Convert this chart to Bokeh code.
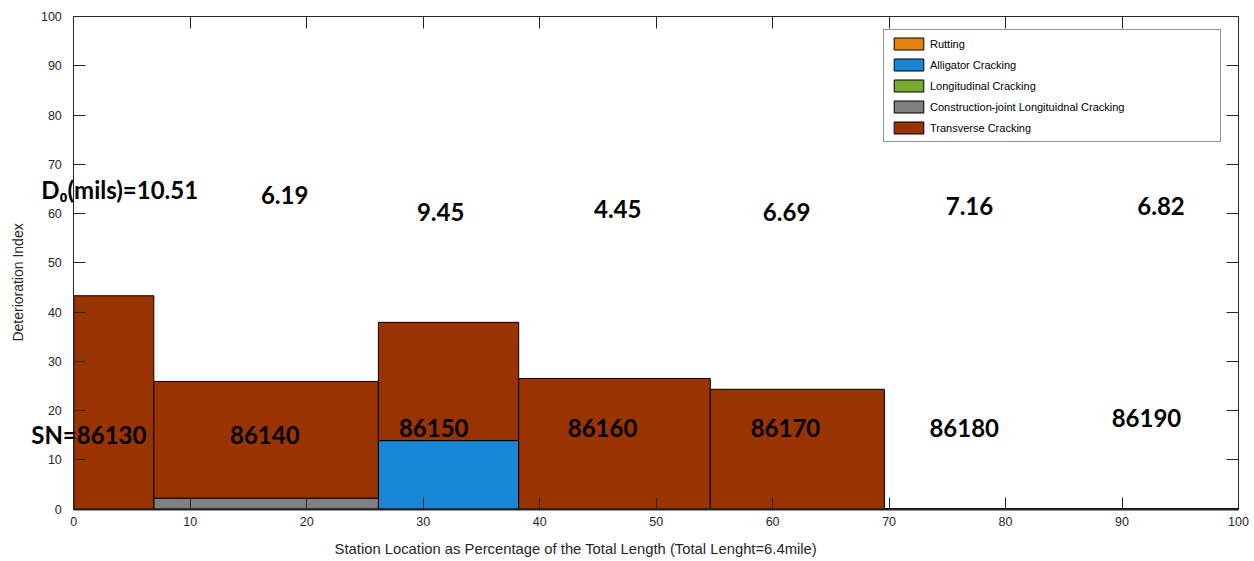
from bokeh.plotting import figure
from bokeh.models import (Range1d, FixedTicker, LinearAxis, Legend, LegendItem,
                          ColumnDataSource, LabelSet, Label, CustomLabelingPolicy)
from bokeh.core.properties import value
from bokeh.embed import file_html
from bokeh.resources import INLINE
import math

# ---------------- data ----------------
stations = [86130, 86140, 86150, 86160, 86170, 86180, 86190]
edges = [0, 6.87, 26.15, 38.2, 54.65, 69.6, 84.5, 100]   # station boundaries (% of length)
d0_mils = [10.51, 6.19, 9.45, 4.45, 6.69, 7.16, 6.82]

series_names = ["Rutting", "Alligator Cracking", "Longitudinal Cracking",
                "Construction-joint Longituidnal Cracking", "Transverse Cracking"]
rutting = [0, 0, 0, 0, 0, 0, 0]
alligator = [0, 0, 13.9, 0, 0, 0, 0]
longitudinal = [0, 0, 0, 0, 0, 0, 0]
construction_joint = [0, 2.2, 0, 0, 0, 0, 0]
transverse = [43.3, 23.7, 24.0, 26.5, 24.3, 0, 0]
series_colors = ["#E6820E", "#1A86D6", "#77AC30", "#808080", "#993300"]

# annotation anchor points (data units)
sn_label_x = [1.29, 16.4, 30.9, 45.4, 61.1, 76.45, 92.1]
sn_label_y = [13.1, 13.1, 14.7, 14.7, 14.7, 14.6, 16.6]
d0_label_x = [3.94, 18.1, 31.5, 46.7, 61.2, 76.9, 93.35]
d0_label_y = [62.9, 62.0, 58.5, 59.0, 58.5, 59.65, 59.65]

x_ticks = [0, 10, 20, 30, 40, 50, 60, 70, 80, 90, 100]
y_ticks = [0, 10, 20, 30, 40, 50, 60, 70, 80, 90, 100]
x_min, x_max = 0, 100
y_min, y_max = 0, 100

x_title = "Station Location as Percentage of the Total Length (Total Lenght=6.4mile)"
y_title = "Deterioration Index"

# ---------------- figure ----------------
# the visible ranges are padded so that texts outside the axes box are not clipped;
# the axes themselves are pinned to the data box [0,100] x [0,100]
p = figure(width=1250, height=558,
           x_range=Range1d(-6.293, 101.03), y_range=Range1d(-10.05, 103.25),
           output_backend="svg", toolbar_location=None,
           min_border_left=0, min_border_right=0, min_border_top=0, min_border_bottom=0)
p.xgrid.visible = False
p.ygrid.visible = False
p.outline_line_color = None

axis_col = "#262626"
hide_all = CustomLabelingPolicy(code="""
    for (const i of indices) { indices.unset(i) }
    return indices
""")

for ax, tk, bnd in ((p.xaxis[0], x_ticks, (x_min, x_max)), (p.yaxis[0], y_ticks, (y_min, y_max))):
    ax.ticker = FixedTicker(ticks=tk)
    ax.fixed_location = 0
    ax.bounds = bnd
    ax.major_tick_in = 12
    ax.major_tick_out = 0
    ax.minor_tick_line_color = None
    ax.axis_line_color = axis_col
    ax.major_tick_line_color = axis_col
    ax.major_label_text_font = "Liberation Sans"
    ax.major_label_text_font_size = "12.5px"
    ax.major_label_text_color = axis_col

p.xaxis.major_label_standoff = 8
p.xaxis.axis_line_width = 2
p.yaxis.major_label_standoff = 12

for loc, tk, fixed, bnd in (("above", x_ticks, y_max, (x_min, x_max)),
                            ("right", y_ticks, x_max, (y_min, y_max))):
    extra = LinearAxis(ticker=FixedTicker(ticks=tk), fixed_location=fixed, bounds=bnd,
                       major_tick_in=12, major_tick_out=0,
                       minor_tick_line_color=None, major_label_text_font_size="1px",
                       major_label_policy=hide_all,
                       major_label_standoff=0, axis_line_color=axis_col,
                       major_tick_line_color=axis_col)
    p.add_layout(extra, loc)

# axis titles (placed as in the reference)
p.add_layout(Label(x=43.1, y=-8.2, text=x_title, text_align="center", text_baseline="middle",
                   text_font="Liberation Sans", text_font_size="14.8px", text_color=axis_col))
p.add_layout(Label(x=-4.83, y=46.0, text=y_title, angle=math.pi / 2, text_align="center",
                   text_baseline="middle", text_font="Liberation Sans", text_font_size="14px",
                   text_color=axis_col))

# ---------------- stacked variable-width bars ----------------
lefts = edges[:-1]
rights = edges[1:]
stack = [rutting, alligator, longitudinal, construction_joint, transverse]
bottom = [0.0] * len(stations)
items = []
for name, vals, col in zip(series_names, stack, series_colors):
    top = [b + v for b, v in zip(bottom, vals)]
    src = ColumnDataSource(dict(left=lefts, right=rights, bottom=list(bottom), top=top))
    r = p.quad(left="left", right="right", bottom="bottom", top="top", source=src,
               fill_color=col, line_color="black", line_width=1)
    items.append(LegendItem(label=name, renderers=[r]))
    bottom = top

legend = Legend(items=items, location="top_right", margin=29, padding=6, spacing=6,
                glyph_width=37, glyph_height=15, label_height=15, label_width=284,
                label_standoff=3, label_text_font="Liberation Sans",
                label_text_font_size="11px", label_text_color="black",
                border_line_color="#262626", border_line_width=1,
                background_fill_color="white", background_fill_alpha=1.0)
p.add_layout(legend)

# ---------------- annotations ----------------
sn_text = [("SN=%d" % s) if i == 0 else str(s) for i, s in enumerate(stations)]
d0_text = [("D\u2080(mils)=%.2f" % d) if i == 0 else ("%.2f" % d) for i, d in enumerate(d0_mils)]

for xs, ys, txt in ((sn_label_x, sn_label_y, sn_text), (d0_label_x, d0_label_y, d0_text)):
    src = ColumnDataSource(dict(x=xs, y=ys, text=txt))
    p.add_layout(LabelSet(x="x", y="y", text="text", source=src, text_align="center",
                          text_baseline="alphabetic", text_font=value("Lato"),
                          text_font_style="bold", text_font_size="24px", text_color="black"))

open("out.html", "w").write(file_html(p, INLINE))
